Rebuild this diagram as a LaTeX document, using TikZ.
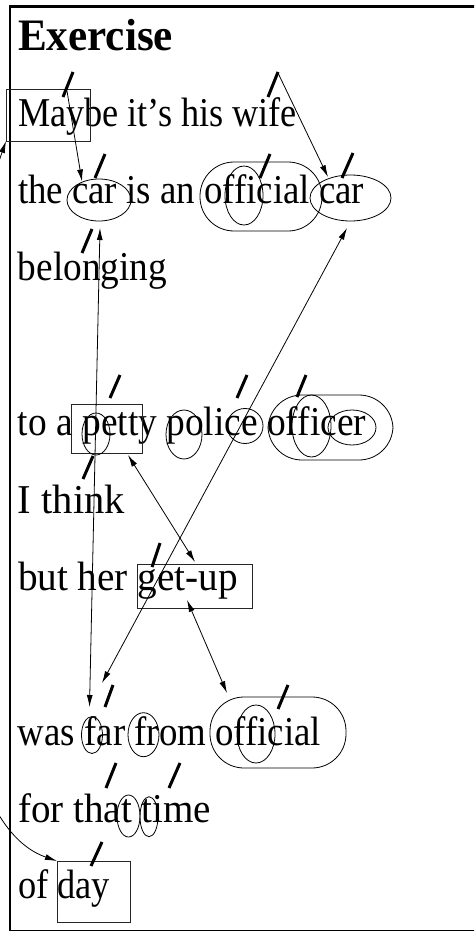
\documentclass[tikz,border=0pt]{standalone}
\usepackage{fontspec}
\usepackage{graphicx}
\setmainfont{Liberation Serif}
\usetikzlibrary{arrows.meta,shapes.geometric}
\newcommand\fitw[2]{\resizebox{#1pt}{\height}{#2}}
\tikzset{
  txt/.style={anchor=base west, inner sep=0pt, outer sep=0pt, font=\fontsize{41}{49}\selectfont},
  wbox/.style={draw=black!85, line width=0.7pt, rectangle, inner sep=0pt, outer sep=0pt},
  ell/.style={draw, line width=0.8pt, ellipse, inner sep=0pt, outer sep=0pt},
  stad/.style={draw, line width=0.8pt, rectangle, rounded corners=34pt, inner sep=0pt, outer sep=0pt},
  slashmark/.style={line width=3pt},
  conn/.style={line width=0.8pt, -{Latex[length=12pt,width=6pt]}},
  conn2/.style={line width=0.8pt, {Latex[length=12pt,width=6pt]}-{Latex[length=12pt,width=6pt]}}
}
\begin{document}
\begin{tikzpicture}[x=1pt,y=-1pt]
\useasboundingbox (0,0) rectangle (474,931);
\clip (0,0) rectangle (474,931);
\fill[white] (0,0) rectangle (474,931);
% frame
\draw[line width=2.5pt] (10,6.5) rectangle (520,931);

% text lines
\node[txt, font=\bfseries\fontsize{45}{54}\selectfont] (title) at (18,51) {\fitw{155}{Exercise}};
\node[txt] (l1) at (18,127) {\fitw{279}{Maybe it’s his wife}};
\node[txt] (l2) at (18,203) {\fitw{346}{the car is an official car}};
\node[txt] (l3) at (18,280) {\fitw{149}{belonging}};
\node[txt] (l4) at (18,435) {\fitw{348}{to a petty police officer}};
\node[txt] (l5) at (18,513) {\fitw{107}{I think}};
\node[txt] (l6) at (18,590) {\fitw{220}{but her get-up}};
\node[txt] (l7) at (18,745) {\fitw{303}{was far from official}};
\node[txt] (l8) at (18,822) {\fitw{193}{for that time}};
\node[txt] (l9) at (18,898) {\fitw{92}{of day}};

% boxes
\node[wbox, minimum width=84pt, minimum height=52pt] (maybebox) at (48,115) {};
\node[wbox, minimum width=71pt, minimum height=49pt] (pettybox) at (106.5,428.5) {};
\node[wbox, minimum width=115pt, minimum height=44pt] (getupbox) at (194.5,586) {};
\node[wbox, minimum width=73pt, minimum height=61pt] (daybox) at (93.5,891.5) {};

% stadiums
\node[stad, minimum width=122pt, minimum height=69pt] (off1) at (261,196.5) {};
\node[stad, minimum width=125pt, minimum height=65pt] (officer) at (330.5,427.5) {};
\node[stad, minimum width=136pt, minimum height=71pt] (off2) at (278,732.5) {};

% ellipses
\node[ell, minimum width=64pt, minimum height=42pt] (car1) at (99,200) {};
\node[ell, minimum width=38pt, minimum height=59pt] (off1i) at (244,195.5) {};
\node[ell, minimum width=81pt, minimum height=46pt] (car2) at (350.5,198) {};
\node[ell, minimum width=28pt, minimum height=42pt] (pettyp) at (96,434) {};
\node[ell, minimum width=36pt, minimum height=49pt] (policepo) at (184,434.5) {};
\node[ell, minimum width=36pt, minimum height=35pt] (policece) at (245,426) {};
\node[ell, minimum width=39pt, minimum height=62pt] (officerffi) at (311.5,426) {};
\node[ell, minimum width=48pt, minimum height=35pt] (officerer) at (352,427.5) {};
\node[ell, minimum width=21pt, minimum height=37pt] (farf) at (92,735) {};
\node[ell, minimum width=31pt, minimum height=44pt] (fromfr) at (143.5,734.7) {};
\node[ell, minimum width=38pt, minimum height=58pt] (off2i) at (256,734) {};
\node[ell, minimum width=23pt, minimum height=42pt] (thatt) at (128.5,816) {};
\node[ell, minimum width=18pt, minimum height=40pt] (timeti) at (149,816.7) {};

% slash marks
\draw[slashmark] (63,97) -- (73,72);
\draw[slashmark] (268,97) -- (278,72);
\draw[slashmark] (95,178) -- (105,154);
\draw[slashmark] (260,178) -- (270,154);
\draw[slashmark] (342,178) -- (353,153);
\draw[slashmark] (82,253) -- (92,229);
\draw[slashmark] (110,398) -- (120,375);
\draw[slashmark] (83,479) -- (93,456);
\draw[slashmark] (237,398) -- (247,375);
\draw[slashmark] (297,397) -- (306,375);
\draw[slashmark] (152,567) -- (160,543);
\draw[slashmark] (105,707) -- (113,685);
\draw[slashmark] (278,709) -- (288,685);
\draw[slashmark] (106,788) -- (116,763);
\draw[slashmark] (169,788) -- (180,763);
\draw[slashmark] (91,866) -- (102,842);

% connector ends
\coordinate (maybeT) at (67,91);
\coordinate (car1T) at (82,181.5);
\coordinate (wifeT) at (278,73);
\coordinate (car2T) at (328,177);
\coordinate (car1B) at (100,228);
\coordinate (farT) at (89.5,707);
\coordinate (car2B) at (347,228);
\coordinate (farTR) at (102,683);
\coordinate (pettyB) at (128,455);
\coordinate (getupT) at (195,562);
\coordinate (getupB) at (187,600);
\coordinate (off2T) at (227,693);

% connectors
\draw[conn] (maybeT) -- (car1T);
\draw[conn] (wifeT) -- (car2T);
\draw[conn2] (car1B) -- (farT);
\draw[conn2] (car2B) -- (farTR);
\draw[conn2] (pettyB) -- (getupT);
\draw[conn2] (getupB) -- (off2T);
\draw[conn2] (maybebox.south west) .. controls (-60,330) and (-90,810) .. (daybox.north west);
\end{tikzpicture}
\end{document}
